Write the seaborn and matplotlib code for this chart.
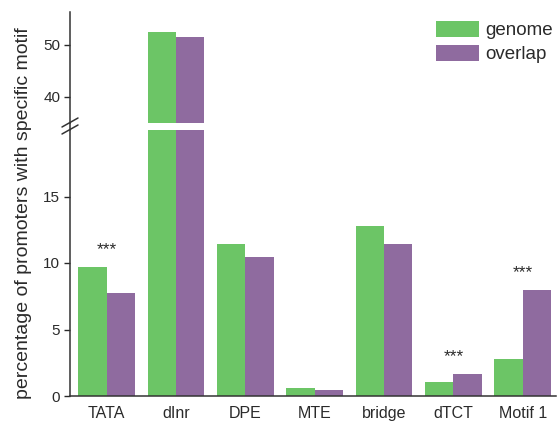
import matplotlib
matplotlib.use("Agg")
import matplotlib.pyplot as plt
import seaborn as sns
import pandas as pd
import numpy as np
from matplotlib.lines import Line2D

categories = ["TATA", "dInr", "DPE", "MTE", "bridge", "dTCT", "Motif 1"]
genome = [9.7, 52.5, 11.4, 0.58, 12.8, 1.03, 2.78]
overlap = [7.75, 51.5, 10.45, 0.43, 11.4, 1.65, 8.0]
series_names = ["genome", "overlap"]
significant = ["TATA", "dTCT", "Motif 1"]
colors = ["#6cc566", "#8f6b9f"]

df = pd.DataFrame({
    "motif": categories * 2,
    "value": genome + overlap,
    "set": [series_names[0]] * len(categories) + [series_names[1]] * len(categories),
})

sns.set_style("white")
plt.rcParams["font.family"] = ["Liberation Sans", "DejaVu Sans"]

txt = "#2a2a2a"
fig = plt.figure(figsize=(5.59, 4.21), dpi=100)
left, width = 70 / 559, 486 / 559
ax_top = fig.add_axes([left, (421 - 123) / 421, width, 111 / 421])
ax_bot = fig.add_axes([left, (421 - 396) / 421, width, 266 / 421])

for ax in (ax_top, ax_bot):
    sns.barplot(data=df, x="motif", y="value", hue="set", palette=colors,
                width=0.82, gap=0, saturation=1, ax=ax, legend=(ax is ax_top),
                edgecolor="none")
    ax.set_xlim(-0.53, 6.48)
    ax.set_xlabel("")
    ax.set_ylabel("")
    ax.tick_params(axis="y", which="both", left=True, length=4, width=1,
                   labelsize=11, colors=txt, pad=3)
    for s in ("right", "top"):
        ax.spines[s].set_visible(False)
    ax.spines["left"].set_color("#333333")
    ax.spines["left"].set_linewidth(1.1)

ax_top.set_ylim(35, 56.3)
ax_top.set_yticks([40, 50])
ax_top.spines["bottom"].set_visible(False)
ax_top.set_xticks([])

ax_bot.set_ylim(0, 20)
ax_bot.set_yticks([0, 5, 10, 15])
ax_bot.spines["bottom"].set_color("#333333")
ax_bot.spines["bottom"].set_linewidth(1.1)
ax_bot.tick_params(axis="x", length=0, labelsize=11.5, colors=txt, pad=7)

# significance stars
for cat in significant:
    i = categories.index(cat)
    top = max(genome[i], overlap[i])
    ax_bot.text(i, top + 1.3, "***", ha="center", va="center", fontsize=12.5,
                color=txt)

# continuous spine through the break and break marks
x0 = left
fig.add_artist(Line2D([x0, x0], [(421 - 130) / 421, (421 - 123) / 421],
                      color="#333333", lw=1.1))
for yc in (122.5, 129.5):
    yf = (421 - yc) / 421
    fig.add_artist(Line2D([x0 - 8 / 559, x0 + 8 / 559],
                          [yf - 4.5 / 421, yf + 4.5 / 421], color="#333333", lw=1.1))

leg = ax_top.legend(loc="upper right", bbox_to_anchor=(1.008, 0.985), frameon=False,
                    fontsize=13.5, handlelength=2.3, handleheight=0.9,
                    handletextpad=0.3, labelspacing=0.3, borderaxespad=0.0)
for t in leg.get_texts():
    t.set_color(txt)

fig.text(24 / 559, (421 - 213) / 421, "percentage of promoters with specific motif",
         rotation=90, ha="center", va="center", fontsize=14, color=txt)

fig.savefig("out.png", dpi=100)
